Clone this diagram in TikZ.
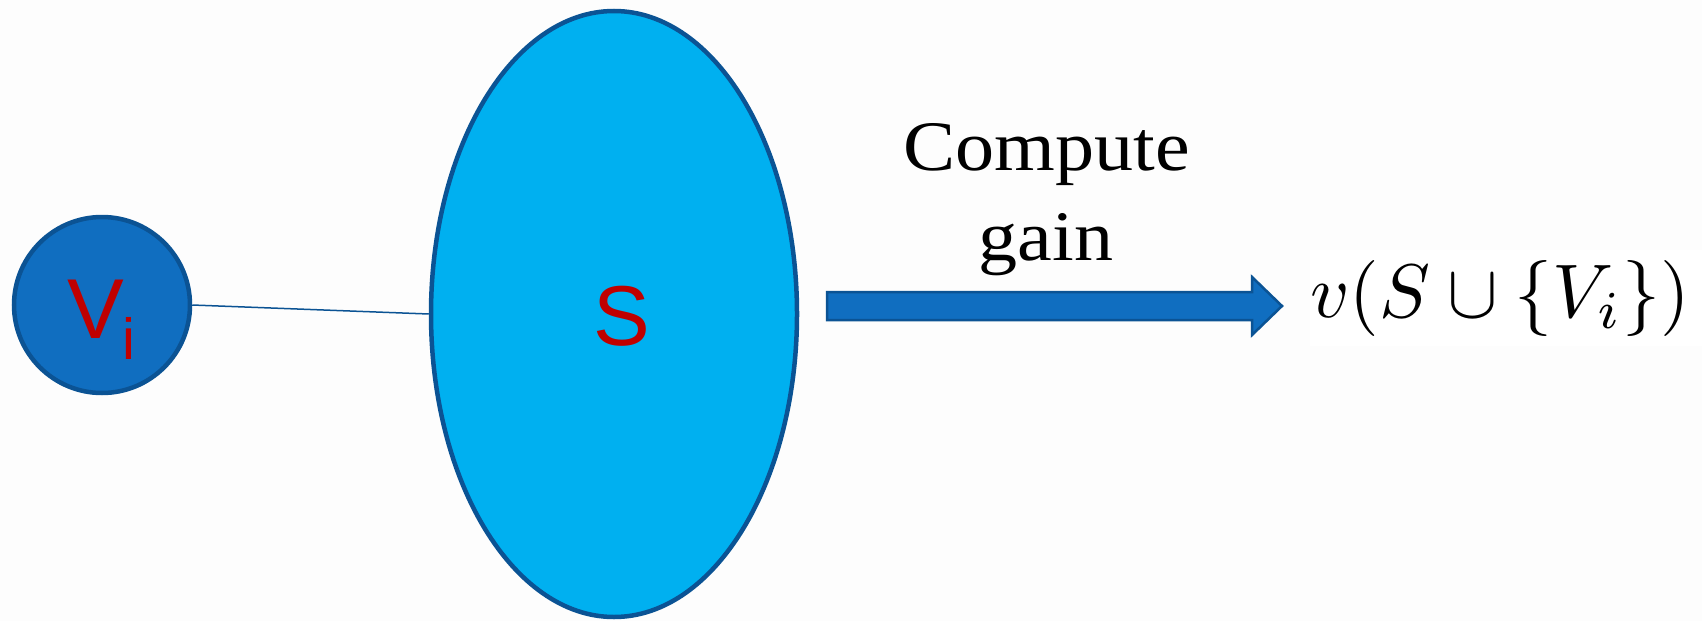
\documentclass[tikz,border=0pt]{standalone}
\usepackage{fix-cm}
\usepackage{graphicx}
\usepackage{fontspec}
\newfontfamily\arialfont{Liberation Sans}
\newfontfamily\serfont[FakeStretch=1.1]{Liberation Serif}
\usetikzlibrary{shapes.geometric}
\definecolor{bgcol}{HTML}{FDFDFD}
\definecolor{edgeblue}{HTML}{0B5394}
\definecolor{circblue}{HTML}{106EC0}
\definecolor{skyblue}{HTML}{00B0F0}
\definecolor{labred}{HTML}{C00000}
\tikzset{
  vnode/.style={circle, draw=edgeblue, fill=circblue, line width=4.5pt, minimum size=176pt, inner sep=0pt},
  setnode/.style={ellipse, draw=edgeblue, fill=skyblue, line width=4.5pt, minimum width=366pt, minimum height=606pt, inner sep=0pt},
  redlab/.style={text=labred, inner sep=0pt, font=\arialfont},
  serlab/.style={inner sep=0pt, anchor=base, font=\serfont\fontsize{71}{71}\selectfont},
  blockarrow/.style={draw=edgeblue, fill=circblue, line width=2.5pt},
  link/.style={draw=edgeblue, line width=1.5pt}
}
\begin{document}
\begin{tikzpicture}[x=1pt,y=-1pt]
\useasboundingbox (0,0) rectangle (1702,621);
\fill[bgcol] (0,0) rectangle (1702,621);
% nodes
\node[vnode] (vi) at (102,305) {};
\node[setnode] (S) at (614,314) {};
\draw[link] (vi.east) -- (S.west);
% labels
\node[redlab, anchor=base west, font=\arialfont\fontsize{85}{85}\selectfont] (vlab) at (67,338) {V};
\node[redlab, anchor=base west, font=\arialfont\fontsize{58}{58}\selectfont] (ilab) at (122,359) {i};
\node[redlab, anchor=base, font=\arialfont\fontsize{85}{85}\selectfont] (slab) at (622,345) {S};
% formula box
\fill[white] (1310,250) rectangle (1702,346);
\node[inner sep=0pt] (formula) at (1500,298) {\scalebox{7.6}{$v(S\cup\{V_i\})$}};
% arrow
\coordinate (atail) at (827,306);
\path[blockarrow] (827,292) -- (1252,292) -- (1252,277) -- (1282,306) -- (1252,335) -- (1252,320) -- (827,320) -- cycle;
% text
\node[serlab] (t1) at (1047,170) {Compute};
\node[serlab] (t2) at (1046,260) {gain};
\end{tikzpicture}
\end{document}
